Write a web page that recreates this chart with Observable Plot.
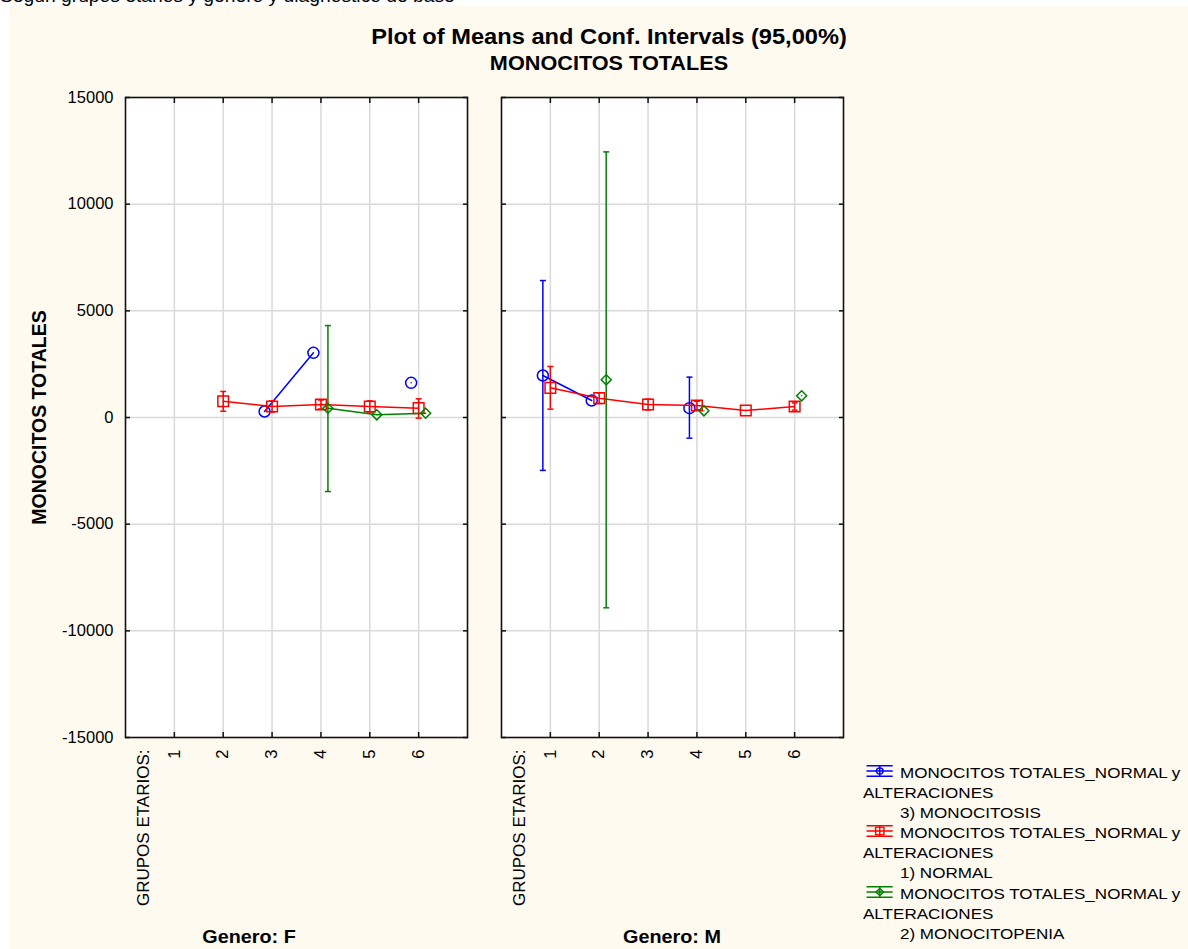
<!DOCTYPE html>
<html>
<head>
<meta charset="utf-8">
<script src="https://cdn.jsdelivr.net/npm/d3@7"></script>
<script src="https://cdn.jsdelivr.net/npm/@observablehq/plot@0.6"></script>
<style>
html, body { margin: 0; padding: 0; background: #fff; width: 1188px; height: 949px; overflow: hidden;
  font-family: "Liberation Sans", Arial, sans-serif; color: #000; }
#page { position: relative; width: 1188px; height: 949px; overflow: hidden; }
#toptext { position: absolute; left: 0; top: -14.3px; font-size: 17.5px; white-space: nowrap; z-index: 0;
  transform: scaleX(1.1); transform-origin: 0 0; }
#bg { position: absolute; left: 9px; top: 6px; right: 0; bottom: 0; background: #fffaf0; z-index: 1; }
#chart { position: absolute; left: 0; top: 0; z-index: 2; }
.ttl { position: absolute; left: 0; width: 1218px; text-align: center; font-weight: bold; white-space: nowrap;
  line-height: 1; transform: scaleX(1.1); z-index: 3; }
.gen { position: absolute; width: 400px; text-align: center; font-weight: bold; font-size: 18px; line-height: 1;
  white-space: nowrap; transform: scaleX(1.1); z-index: 3; }
#legend { position: absolute; left: 863px; top: 763px; font-size: 15.5px; line-height: 20.1px; white-space: nowrap;
  transform: scaleX(1.1); transform-origin: 0 0; z-index: 3; }
#legend .row { position: relative; height: 20.1px; }
#legend .ind { padding-left: 33.6px; }
#legend svg { position: absolute; left: 2.7px; top: 2px; }
</style>
</head>
<body>
<div id="page">
  <div id="toptext"></div>
  <div id="bg"></div>
  <div id="chart"></div>
  <div class="ttl" id="title" style="top:26.8px;font-size:21.5px;"></div>
  <div class="ttl" id="subtitle" style="top:54.3px;font-size:19.7px;"></div>
  <div class="gen" id="genF" style="left:49px;top:927.8px;"></div>
  <div class="gen" id="genM" style="left:472px;top:927.8px;"></div>
  <div id="legend"></div>
</div>
<script>
// ---------- texts ----------
const topText = "Según grupos etarios y genero y diagnostico de base";
const titleText = "Plot of Means and Conf. Intervals (95,00%)";
const subtitleText = "MONOCITOS TOTALES";
const yLabel = "MONOCITOS TOTALES";
const xLabel = "GRUPOS ETARIOS:";
const facetPrefix = "Genero: ";

// ---------- categories ----------
const genders = ["F", "M"];
const groups = [1, 2, 3, 4, 5, 6];
const yTicks = [-15000, -10000, -5000, 0, 5000, 10000, 15000];
const yGrid = [-10000, -5000, 0, 5000, 10000];

const seriesNames = ["3) MONOCITOSIS", "1) NORMAL", "2) MONOCITOPENIA"];
const seriesPrefix = "MONOCITOS TOTALES_NORMAL y";
const seriesPrefix2 = "ALTERACIONES";
const seriesColors = ["#0000ff", "#ff0000", "#008000"];

// ---------- values (null = no data) ----------
// 3) MONOCITOSIS
const monocitosisMeanF = [null, null, 281, 3031, null, 1625];
const monocitosisLowF  = [null, null, null, null, null, null];
const monocitosisHighF = [null, null, null, null, null, null];
const monocitosisMeanM = [1969, 797, null, 437, null, null];
const monocitosisLowM  = [-2480, null, null, -969, null, null];
const monocitosisHighM = [6420, null, null, 1891, null, null];
// 1) NORMAL
const normalMeanF = [null, 764, 516, 609, 516, 437];
const normalLowF  = [null, 295, 256, 399, 256, -30];
const normalHighF = [null, 1219, 776, 819, 776, 876];
const normalMeanM = [1391, 906, 609, 563, 328, 516];
const normalLowM  = [391, 656, 359, 363, null, 346];
const normalHighM = [2391, 1156, 859, 763, null, 686];
// 2) MONOCITOPENIA
const monocitopeniaMeanF = [null, null, null, 437, 125, 203];
const monocitopeniaLowF  = [null, null, null, -3470, null, null];
const monocitopeniaHighF = [null, null, null, 4310, null, null];
const monocitopeniaMeanM = [null, 1766, null, 312, null, 1016];
const monocitopeniaLowM  = [null, -8920, null, null, null, null];
const monocitopeniaHighM = [null, 12450, null, null, null, null];

function buildRows(meanF, lowF, highF, meanM, lowM, highM) {
  const out = [];
  groups.forEach((g, i) => out.push({gender: "F", group: g, mean: meanF[i], low: lowF[i], high: highF[i]}));
  groups.forEach((g, i) => out.push({gender: "M", group: g, mean: meanM[i], low: lowM[i], high: highM[i]}));
  return out;
}
const monocitosis = buildRows(monocitosisMeanF, monocitosisLowF, monocitosisHighF, monocitosisMeanM, monocitosisLowM, monocitosisHighM);
const normal = buildRows(normalMeanF, normalLowF, normalHighF, normalMeanM, normalLowM, normalHighM);
const monocitopenia = buildRows(monocitopeniaMeanF, monocitopeniaLowF, monocitopeniaHighF, monocitopeniaMeanM, monocitopeniaLowM, monocitopeniaHighM);

// ---------- html texts ----------
document.getElementById("toptext").textContent = topText;
document.getElementById("title").textContent = titleText;
document.getElementById("subtitle").textContent = subtitleText;
document.getElementById("genF").textContent = facetPrefix + genders[0];
document.getElementById("genM").textContent = facetPrefix + genders[1];

// ---------- plot ----------
const hline = {draw(ctx, size) { const w = Math.sqrt(size / Math.PI); ctx.moveTo(-w, 0); ctx.lineTo(w, 0); }};

function seriesMarks(data, color, symbol, r, dx) {
  const withCI = data.filter(d => d.low != null);
  const withMean = data.filter(d => d.mean != null);
  return [
    Plot.line(data, {fx: "gender", x: "group", y: "mean", stroke: color, strokeWidth: 1.5, dx}),
    Plot.ruleX(withCI, {fx: "gender", x: "group", y1: "low", y2: "high", stroke: color, strokeWidth: 1.5, dx}),
    Plot.dot(withCI, {fx: "gender", x: "group", y: "low", symbol: hline, r: 3, stroke: color, fill: "none", strokeWidth: 1.5, dx}),
    Plot.dot(withCI, {fx: "gender", x: "group", y: "high", symbol: hline, r: 3, stroke: color, fill: "none", strokeWidth: 1.5, dx}),
    Plot.dot(withMean, {fx: "gender", x: "group", y: "mean", symbol, r, stroke: color, fill: "none", strokeWidth: 1.5, dx})
  ];
}

const facetRows = genders.map(g => ({gender: g}));

const chart = Plot.plot({
  width: 1188,
  height: 949,
  marginTop: 97,
  marginBottom: 212,
  marginLeft: 125,
  marginRight: 345,
  style: {background: "transparent", fontFamily: "'Liberation Sans', Arial, sans-serif", color: "#000", overflow: "visible"},
  fx: {domain: genders, paddingInner: 0.0904, paddingOuter: 0, round: false, axis: null, label: null},
  x: {domain: [0, 7], label: null},
  y: {domain: [-15000, 15000], label: null},
  marks: [
    Plot.frame({fill: "white", stroke: null}),
    Plot.gridY({ticks: yGrid, stroke: "#d9d9d9", strokeOpacity: 1, strokeWidth: 1.5}),
    Plot.gridX({ticks: groups, stroke: "#d9d9d9", strokeOpacity: 1, strokeWidth: 1.5}),
    Plot.frame({stroke: "#111", strokeWidth: 1.6}),
    Plot.axisY({anchor: "left", ticks: yTicks, tickSize: -5, fill: "none", stroke: "#111", strokeWidth: 1.5, facetAnchor: null, label: null}),
    Plot.axisY({anchor: "right", ticks: yTicks, tickSize: -5, fill: "none", stroke: "#111", strokeWidth: 1.5, facetAnchor: null, label: null}),
    Plot.axisX({anchor: "bottom", ticks: groups, tickSize: -5, fill: "none", stroke: "#111", strokeWidth: 1.5, facetAnchor: null, label: null}),
    Plot.axisX({anchor: "top", ticks: groups, tickSize: -5, fill: "none", stroke: "#111", strokeWidth: 1.5, facetAnchor: null, label: null}),
    Plot.axisY({anchor: "left", ticks: yTicks, tickSize: 0, tickPadding: 12, tickFormat: d => String(d), fontSize: 16.5, label: null}),
    Plot.axisX({anchor: "bottom", ticks: groups, tickSize: 0, tickPadding: 12, tickRotate: -90, tickFormat: d => String(d), fontSize: 16.5, label: null}),
    Plot.text(facetRows, {fx: "gender", x: () => groups[0], dx: -25, frameAnchor: "bottom", dy: 12, rotate: -90, textAnchor: "end", text: () => xLabel, fontSize: 17}),
    Plot.text(facetRows.slice(0, 1), {fx: "gender", frameAnchor: "left", dx: -86, rotate: -90, textAnchor: "middle", text: () => yLabel, fontWeight: "bold", fontSize: 19.5}),
    ...seriesMarks(monocitosis, seriesColors[0], "circle", 5.5, -7.5),
    ...seriesMarks(normal, seriesColors[1], "square", 6, 0),
    ...seriesMarks(monocitopenia, seriesColors[2], "diamond2", 4.5, 7)
  ]
});
document.getElementById("chart").appendChild(chart);

// ---------- legend ----------
const symbolSvg = {
  0: '<circle cx="12.25" cy="6" r="3" fill="none" stroke="COLOR" stroke-width="1.3"/>',
  1: '<rect x="8.5" y="2.25" width="7.5" height="7.5" fill="none" stroke="COLOR" stroke-width="1.3"/>',
  2: '<path d="M12.25,2.5 L15.75,6 L12.25,9.5 L8.75,6 Z" fill="none" stroke="COLOR" stroke-width="1.3"/>'
};
const legend = document.getElementById("legend");
seriesNames.forEach((name, i) => {
  const c = seriesColors[i];
  const row1 = document.createElement("div");
  row1.className = "row ind";
  row1.innerHTML = ('<svg width="24.5" height="12" viewBox="0 0 24.5 12">' +
    '<line x1="0" y1="0.75" x2="24.5" y2="0.75" stroke="COLOR" stroke-width="1.3"/>' +
    '<line x1="0" y1="11.25" x2="24.5" y2="11.25" stroke="COLOR" stroke-width="1.3"/>' +
    '<line x1="0" y1="6" x2="24.5" y2="6" stroke="COLOR" stroke-width="1.3"/>' +
    '<line x1="12.25" y1="0.75" x2="12.25" y2="11.25" stroke="COLOR" stroke-width="1.3"/>' +
    symbolSvg[i] + '</svg>').replaceAll("COLOR", c);
  const span = document.createElement("span");
  span.textContent = seriesPrefix;
  row1.appendChild(span);
  const row2 = document.createElement("div");
  row2.className = "row";
  row2.textContent = seriesPrefix2;
  const row3 = document.createElement("div");
  row3.className = "row ind";
  row3.textContent = name;
  legend.append(row1, row2, row3);
});
</script>
</body>
</html>
